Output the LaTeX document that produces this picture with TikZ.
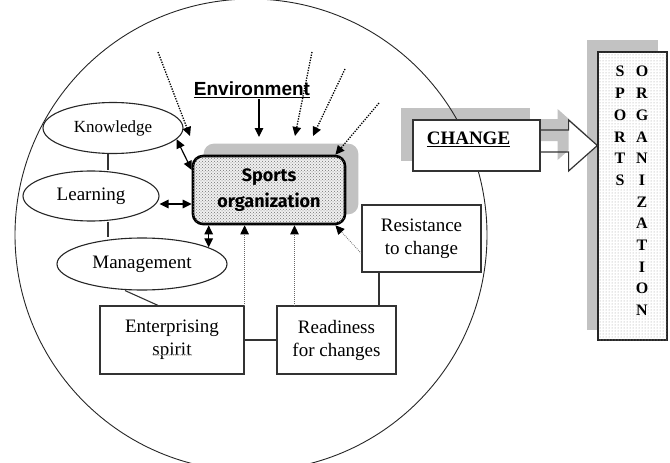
\documentclass[tikz,border=0pt]{standalone}
\usepackage{fontspec}
\setmainfont{Liberation Serif}
\newfontfamily\envfont{Liberation Sans}
\newfontfamily\orgfont{Fira Sans}
\usetikzlibrary{shapes.geometric,arrows.meta,patterns,calc,decorations.pathmorphing}
\pgfdeclarelayer{bg}
\pgfsetlayers{bg,main}
\definecolor{shadowgray}{gray}{0.76}
\begin{document}
\begin{tikzpicture}[x=1pt,y=-1pt,
  oval/.style={ellipse, draw=black!85, line width=1.1pt, fill=white, inner sep=0pt},
  box/.style={rectangle, draw=black!80, line width=1.2pt, fill=white, align=center, inner sep=0pt},
  txt/.style={font=\fontsize{19}{23}\selectfont},
  tipend/.style={-{Triangle[length=9pt,width=8.5pt]}},
  twoway/.style={{Triangle[length=9pt,width=8.5pt]}-{Triangle[length=9pt,width=8.5pt]}, line width=1.2pt},
  envdot/.style={tipend, line width=1.3pt, dash pattern=on 1.3pt off 1.3pt},
  finedot/.style={-{Triangle[length=9pt,width=8.5pt,color=black]}, draw=black!60, line width=0.8pt, dash pattern=on 0.8pt off 1.2pt},
  letters/.style={align=center, font=\fontsize{16}{21.7}\selectfont\bfseries, inner sep=0pt}
]
\useasboundingbox (0,0) rectangle (670,463);

% central block
\node[rectangle, rounded corners=10pt, draw=black, line width=2.6pt,
      minimum width=152, minimum height=68, fill=gray!12,
      postaction={pattern=crosshatch dots, pattern color=black!55},
      align=center, inner sep=0pt,
      font=\orgfont\bfseries\fontsize{18}{26}\selectfont] (sports) at (269,190) {Sports\\organization};

\node[font=\envfont\bfseries\fontsize{19}{22}\selectfont, inner sep=1pt] (env) at (252,90) {\underline{Environment}};

% knowledge chain
\node[oval, minimum width=140, minimum height=51, font=\fontsize{17}{20}\selectfont] (know) at (113,128) {Knowledge};
\node[oval, txt, minimum width=136, minimum height=50] (learn) at (91,196) {Learning};
\node[oval, txt, minimum width=170, minimum height=52] (manage) at (142,264) {Management};

% factor boxes
\node[box, txt, minimum width=144, minimum height=68] (enter) at (172,340) {Enterprising\\spirit};
\node[box, txt, minimum width=119, minimum height=68] (ready) at (336.5,340) {Readiness\\for changes};
\node[box, txt, minimum width=119, minimum height=67] (resist) at (421.5,238.5) {Resistance\\to change};

% change callout and target block
\node[box, minimum width=127, minimum height=51] (change) at (476.5,145.5) {};
\node[font=\bfseries\fontsize{19}{22}\selectfont, inner sep=1pt] (changetxt) at ([shift={(-8,-6.5)}]change.center) {\underline{CHANGE}};

\node[rectangle, draw=black!85, line width=1.3pt, minimum width=69, minimum height=288,
      fill=white, postaction={pattern=dots, pattern color=black!40}] (sorg) at (632.5,196) {};
\node[letters] (colA) at (620,126) {S\\P\\O\\R\\T\\S};
\node[letters] (colB) at (642,191) {O\\R\\G\\A\\N\\I\\Z\\A\\T\\I\\O\\N};

% callout arrow from the change box to the target block
\coordinate (sa) at ($(change.east)+(0,-15.5)$);
\coordinate (sb) at ($(change.east)+(0,6.5)$);
\coordinate (hx) at ($(change.east)+(28,0)$);
\coordinate (ht) at ($(change.east)+(28,-25.5)$);
\coordinate (hb) at ($(change.east)+(28,25.5)$);
\coordinate (tip) at (sorg.west |- change.east);
\fill[white] (ht) -- (tip) -- (hb) -- cycle;
\draw[black!80, line width=1.2pt, line join=miter]
  (sa) -- (hx |- sa) -- (ht) -- (tip) -- (hb) -- (hx |- sb) -- (sb);

% environment influences
\coordinate (e0) at ([xshift=7pt]env.south);
\coordinate (e0t) at (259,137);
\draw[tipend, line width=1.2pt] (e0) -- (e0t);
\coordinate (d1s) at (158,52);  \coordinate (d1e) at (190,136);
\coordinate (d2s) at (312,52);  \coordinate (d2e) at (295,136);
\coordinate (d3s) at (345,69);  \coordinate (d3e) at (313,136);
\coordinate (d4s) at (379,103);
\draw[envdot] (d1s) -- (d1e);
\draw[envdot] (d2s) -- (d2e);
\draw[envdot] (d3s) -- (d3e);
\draw[envdot] (d4s) -- (sports.28);

% two-way links
\draw[twoway] (know.-10) -- ([yshift=20pt]sports.west);
\draw[twoway] ([yshift=-8pt]learn.east) -- ([yshift=-14pt]sports.west);
\draw[twoway] (sports.south -| manage.14) -- (manage.14);

% factors acting on the organization
\coordinate (rdy) at ([xshift=-42pt]ready.north);
\draw[finedot] (enter.north east) -- (sports.south -| enter.north east);
\draw[finedot] (rdy) -- (sports.south -| rdy);
\draw[finedot] ([yshift=-15pt]resist.west) -- (sports.-28);

% spell-check squiggle under "spirit"
\draw[gray!55, line width=0.4pt, decorate, decoration={snake, amplitude=0.6pt, segment length=2.2pt}]
  (152,355) -- (192,355);

\begin{pgfonlayer}{bg}
  % shadows
  \fill[shadowgray, rounded corners=10pt] ($(sports.north west)+(12,-11)$) rectangle ($(sports.south east)+(12,-11)$);
  \fill[shadowgray] ($(sorg.north west)+(-10,-11)$) rectangle ($(sorg.south east)+(-10,-11)$);
  \fill[shadowgray] ($(change.north west)+(-11,-11)$) rectangle ($(change.south east)+(-11,-11)$);
  \fill[shadowgray] ($(sa)+(-11,-11)$) -- ($(hx |- sa)+(-11,-11)$) -- ($(ht)+(-11,-11)$)
    -- ($(tip)+(-11,-11)$) -- ($(hb)+(-11,-11)$) -- ($(hx |- sb)+(-11,-11)$) -- ($(sb)+(-11,-11)$) -- cycle;
  % enclosing environment
  \draw[black!85, line width=0.9pt] (251,235) circle[radius=236];
  % plain links
  \coordinate (lx) at (108,0);
  \coordinate (rx) at (379,0);
  \draw[black!80, line width=1.1pt] (know.south -| lx) -- (learn.north -| lx);
  \draw[black!80, line width=1.1pt] (learn.south -| lx) -- (manage.north -| lx);
  \draw[black!80, line width=1.1pt] ([xshift=-17pt]manage.south) -- ([xshift=-14pt]enter.north);
  \draw[black!80, line width=1.1pt] (enter) -- (ready);
  \draw[black!80, line width=1.1pt] (resist.south -| rx) -- (ready.north -| rx);
\end{pgfonlayer}
\end{tikzpicture}
\end{document}
